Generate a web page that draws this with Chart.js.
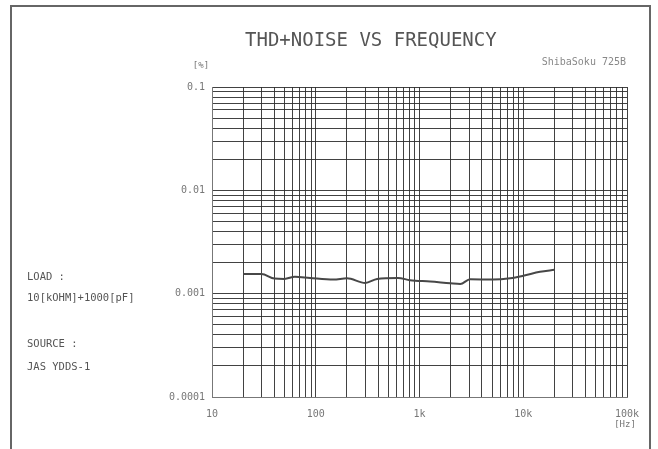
<!DOCTYPE html>
<html>
<head>
<meta charset="utf-8">
<script src="https://cdn.jsdelivr.net/npm/chart.js@4/dist/chart.umd.min.js"></script>
<style>
  html, body { margin: 0; padding: 0; background: #fff; }
  #wrap { width: 658px; height: 449px; position: relative; }
</style>
</head>
<body>
<div id="wrap"><canvas id="chart"></canvas></div>
<script>
const freqHz = [20, 30, 40, 50, 63, 88, 148, 200, 300, 390, 620, 810, 1270, 1980, 2470, 3080, 5130, 7480, 10000, 14500, 20000];
const thdPct = [0.00155, 0.00155, 0.00140, 0.00139, 0.00146, 0.00142, 0.00137, 0.00141, 0.00127, 0.00139, 0.00142, 0.00135, 0.00131, 0.00126, 0.00124, 0.00138, 0.00137, 0.00141, 0.00149, 0.00163, 0.00170];

// axis labels
const xDecades = [10, 100, 1000, 10000, 100000];
const xTickLabels = ['10', '100', '1k', '10k', '100k'];
const yDecades = [0.0001, 0.001, 0.01, 0.1];
const yTickLabels = ['0.0001', '0.001', '0.01', '0.1'];

const titleText = 'THD+NOISE VS FREQUENCY';
const makerText = 'ShibaSoku 725B';
const notes = ['LOAD :', '10[kOHM]+1000[pF]', 'SOURCE :', 'JAS YDDS-1'];

const MONO = '"DejaVu Sans Mono", "Liberation Mono", monospace';
const gridColor = 'rgba(45,45,45,0.9)';

// 1..9 per decade, so every grid line is drawn
function logTicks(decades) {
  const out = [];
  for (let i = 0; i < decades.length; i++) {
    if (i === decades.length - 1) { out.push({value: decades[i]}); break; }
    for (let m = 1; m <= 9; m++) out.push({value: m * decades[i]});
  }
  return out;
}

function decadeLabel(v, decades, labels) {
  for (let i = 0; i < decades.length; i++) {
    if (Math.abs(v / decades[i] - 1) < 1e-6) return labels[i];
  }
  return '';
}

// page text: title, maker, notes, units, frame
const decor = {
  id: 'decor',
  afterDraw(c) {
    const ctx = c.ctx;
    const xs = c.scales.x, ys = c.scales.y;
    ctx.save();

    ctx.strokeStyle = '#666';
    ctx.lineWidth = 2;
    ctx.beginPath();
    ctx.moveTo(11, 460); ctx.lineTo(11, 6); ctx.lineTo(650, 6); ctx.lineTo(650, 460);
    ctx.stroke();

    ctx.fillStyle = '#555';
    ctx.textBaseline = 'middle';
    ctx.textAlign = 'left';
    ctx.font = '19px ' + MONO;
    ctx.fillText(titleText, 245, 41);

    ctx.fillStyle = '#888';
    ctx.font = '10px ' + MONO;
    ctx.textAlign = 'right';
    ctx.fillText(makerText, 626, 62);

    ctx.fillStyle = '#555';
    ctx.font = '10.5px ' + MONO;
    ctx.textAlign = 'left';
    const ny = [277, 298, 344, 367];
    notes.forEach((t, i) => ctx.fillText(t, 27, ny[i]));

    ctx.fillStyle = '#777';
    ctx.font = '9px ' + MONO;
    ctx.textAlign = 'center';
    ctx.fillText('[%]', 201, ys.getPixelForValue(0.1) - 21);
    ctx.fillText('[Hz]', xs.getPixelForValue(100000) - 2, 425);
    ctx.restore();
  }
};

new Chart(document.getElementById('chart'), {
  type: 'line',
  data: {
    datasets: [{
      data: freqHz.map((f, i) => ({x: f, y: thdPct[i]})),
      borderColor: '#474747',
      borderWidth: 2,
      pointRadius: 0,
      cubicInterpolationMode: 'monotone',
      fill: false
    }]
  },
  options: {
    responsive: true,
    maintainAspectRatio: false,
    animation: false,
    layout: {padding: {left: 0, top: 87, right: 31, bottom: 32}},
    plugins: {legend: {display: false}, tooltip: {enabled: false}},
    scales: {
      x: {
        type: 'logarithmic',
        min: 10,
        max: 100000,
        afterBuildTicks: s => { s.ticks = logTicks(xDecades); },
        afterFit: s => { s.height = 20; },
        grid: {color: gridColor, lineWidth: 1, drawTicks: false},
        border: {color: '#777', width: 1},
        ticks: {
          autoSkip: false,
          maxRotation: 0,
          padding: 11,
          color: '#777',
          font: {family: MONO, size: 10},
          callback: v => decadeLabel(v, xDecades, xTickLabels)
        }
      },
      y: {
        type: 'logarithmic',
        min: 0.0001,
        max: 0.1,
        afterBuildTicks: s => { s.ticks = logTicks(yDecades); },
        afterFit: s => { s.width = 212; },
        grid: {color: gridColor, lineWidth: 1, drawTicks: false},
        border: {color: '#777', width: 1},
        ticks: {
          autoSkip: false,
          padding: 7,
          color: '#777',
          font: {family: MONO, size: 10},
          callback: v => decadeLabel(v, yDecades, yTickLabels)
        }
      }
    }
  },
  plugins: [decor]
});
</script>
</body>
</html>
